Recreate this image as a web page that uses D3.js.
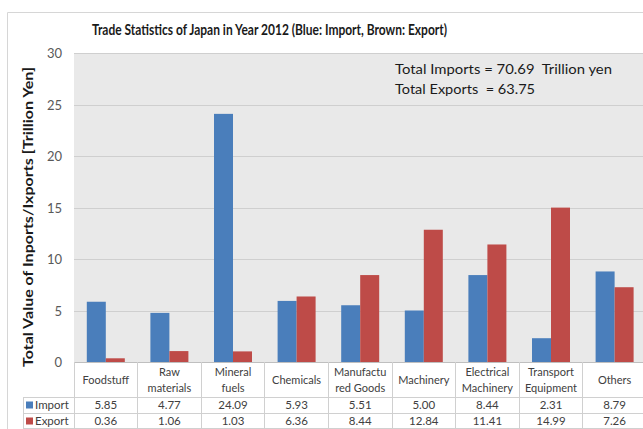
<!DOCTYPE html>
<meta charset="utf-8">
<html>
<script src="https://d3js.org/d3.v7.min.js"></script>
<style>
  body { margin: 0; background: #fff; }
  text { font-family: Lato, "Open Sans", sans-serif; }
</style>
<body>
<div id="chart"></div>
<script>
// data
const categories = ["Foodstuff", "Raw materials", "Mineral fuels", "Chemicals", "Manufactured Goods",
  "Machinery", "Electrical Machinery", "Transport Equipment", "Others"];
const labelLines = [["Foodstuff"], ["Raw", "materials"], ["Mineral", "fuels"], ["Chemicals"],
  ["Manufactu", "red Goods"], ["Machinery"], ["Electrical", "Machinery"], ["Transport", "Equipment"], ["Others"]];
const imports = [5.85, 4.77, 24.09, 5.93, 5.51, 5.00, 8.44, 2.31, 8.79];
const exportVals = [0.36, 1.06, 1.03, 6.36, 8.44, 12.84, 11.41, 14.99, 7.26];
const yTicks = [0, 5, 10, 15, 20, 25, 30];

const W = 643, H = 429;
const plotLeft = 74, plotRight = 646.4, plotTop = 53, plotBottom = 362;
const blue = "#4a7ebb", red = "#be4b48";

const svg = d3.select("#chart").append("svg")
  .attr("width", W).attr("height", H);

// outer frame
svg.append("path")
  .attr("d", `M7.5,${H} V12.5 H${W}`)
  .attr("fill", "none").attr("stroke", "#d6d6d6");

const x = d3.scaleBand().domain(categories).range([plotLeft, plotRight]);
const y = d3.scaleLinear().domain([0, 30]).range([plotBottom, plotTop]);

// plot background
svg.append("rect")
  .attr("x", plotLeft).attr("y", plotTop)
  .attr("width", W - plotLeft).attr("height", plotBottom - plotTop)
  .attr("fill", "#e9e9e9");

// grid lines
svg.append("g").selectAll("line")
  .data(yTicks.filter(d => d > 0))
  .join("line")
  .attr("x1", plotLeft).attr("x2", W)
  .attr("y1", d => Math.round(y(d)) + 0.5).attr("y2", d => Math.round(y(d)) + 0.5)
  .attr("stroke", "#cfcfcf");

// y axis ticks
const yAxis = svg.append("g")
  .attr("transform", `translate(${plotLeft},0)`)
  .call(d3.axisLeft(y).tickValues(yTicks).tickSize(0).tickPadding(12));
yAxis.select(".domain").remove();
yAxis.selectAll("text")
  .style("font-family", "Lato, sans-serif")
  .style("font-size", "13px")
  .style("fill", "#595959")
  .attr("dy", "0.35em");

// bars
const bw = 19;
svg.append("g").selectAll("rect")
  .data(categories)
  .join("rect")
  .attr("x", d => x(d) + x.bandwidth() / 2 - bw)
  .attr("y", (d, i) => y(imports[i]))
  .attr("width", bw)
  .attr("height", (d, i) => y(0) - y(imports[i]))
  .attr("fill", blue);
svg.append("g").selectAll("rect")
  .data(categories)
  .join("rect")
  .attr("x", d => x(d) + x.bandwidth() / 2)
  .attr("y", (d, i) => y(exportVals[i]))
  .attr("width", bw)
  .attr("height", (d, i) => y(0) - y(exportVals[i]))
  .attr("fill", red);

// data table
const grid = svg.append("g").attr("stroke", "#d0d0d0").attr("shape-rendering", "crispEdges");
grid.append("line").attr("x1", plotLeft).attr("x2", W).attr("y1", 362).attr("y2", 362).attr("stroke", "#bfbfbf");
grid.append("line").attr("x1", 23).attr("x2", W).attr("y1", 397).attr("y2", 397);
grid.append("line").attr("x1", 23).attr("x2", W).attr("y1", 413).attr("y2", 413);
grid.append("line").attr("x1", 23).attr("x2", W).attr("y1", 428.5).attr("y2", 428.5);
grid.append("line").attr("x1", 23).attr("x2", 23).attr("y1", 397).attr("y2", 429);
grid.selectAll(".v").data(categories).join("line")
  .attr("x1", d => x(d)).attr("x2", d => x(d))
  .attr("y1", 362).attr("y2", 429);

// category labels
const lab = svg.append("g").selectAll("text")
  .data(categories)
  .join("text")
  .attr("text-anchor", "middle")
  .style("font-size", "11px")
  .style("fill", "#404040");
lab.each(function(d, i) {
  const lines = labelLines[i];
  const t = d3.select(this);
  lines.forEach((s, k) => {
    const cy = lines.length === 1 ? 380 : 372 + k * 16;
    t.append("tspan").attr("x", x(d) + x.bandwidth() / 2).attr("y", cy).attr("dy", "0.35em").text(s);
  });
});

// value rows
[[imports, 405, blue, "Import"], [exportVals, 421, red, "Export"]].forEach(([vals, cy, col, name]) => {
  svg.append("g").selectAll("text")
    .data(categories)
    .join("text")
    .attr("x", d => x(d) + x.bandwidth() / 2)
    .attr("y", cy).attr("dy", "0.35em")
    .attr("text-anchor", "middle")
    .style("font-size", "11.5px")
    .style("fill", "#404040")
    .text((d, i) => vals[i].toFixed(2));
  svg.append("rect").attr("x", 26).attr("y", cy - 3.5).attr("width", 7).attr("height", 7).attr("fill", col);
  svg.append("text").attr("x", 35).attr("y", cy).attr("dy", "0.35em")
    .style("font-size", "11.5px").style("fill", "#404040").text(name);
});

// title
svg.append("text")
  .attr("x", 92).attr("y", 30).attr("dy", "0.35em")
  .attr("textLength", 355).attr("lengthAdjust", "spacingAndGlyphs")
  .style("font-size", "15px").style("font-weight", "bold").style("fill", "#1a1a1a")
  .text("Trade Statistics of Japan in Year 2012 (Blue: Import, Brown: Export)");

// y axis title
svg.append("text")
  .attr("transform", "translate(28,217) rotate(-90)")
  .attr("text-anchor", "middle").attr("dy", "0.35em")
  .attr("textLength", 300).attr("lengthAdjust", "spacingAndGlyphs")
  .style("font-size", "13.5px").style("font-weight", "bold").style("fill", "#1a1a1a")
  .text("Total Value of Inports/Ixports [Trillion Yen]");

// totals note
const totalImports = d3.sum(imports).toFixed(2);
const totalExports = d3.sum(exportVals).toFixed(2);
svg.append("text").attr("x", 395).attr("y", 69).attr("dy", "0.35em")
  .attr("textLength", 217).attr("lengthAdjust", "spacingAndGlyphs")
  .style("font-size", "14px").style("fill", "#1a1a1a")
  .style("white-space", "pre")
  .text(`Total Imports = ${totalImports}  Trillion yen`);
svg.append("text").attr("x", 395).attr("y", 89).attr("dy", "0.35em")
  .attr("textLength", 140).attr("lengthAdjust", "spacingAndGlyphs")
  .style("font-size", "14px").style("fill", "#1a1a1a")
  .style("white-space", "pre")
  .text(`Total Exports  = ${totalExports}`);
</script>
</body>
</html>
